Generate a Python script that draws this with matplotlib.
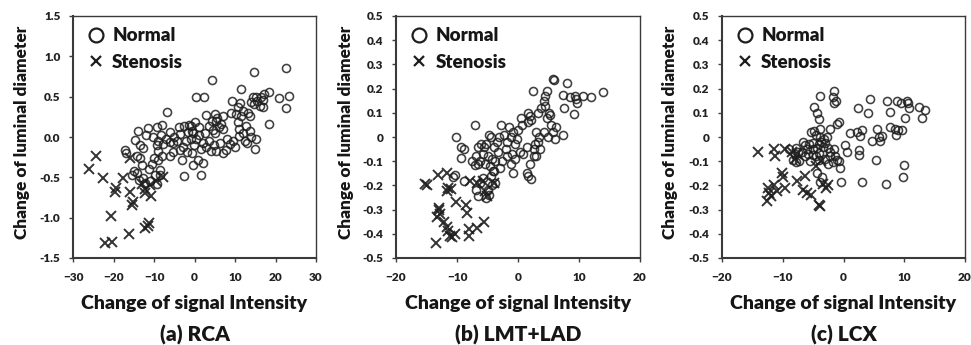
import numpy as np
import matplotlib
matplotlib.use('Agg')
import matplotlib.pyplot as plt
from matplotlib.lines import Line2D

plt.rcParams['font.family'] = ['Lato', 'DejaVu Sans']
plt.rcParams['font.weight'] = 'heavy'

# ---- data ----
# (a) RCA
rca_normal_x = [22.7, 14.7, 4.4, 11.4, 0.3, 2.4, 9.2, 18.3, 20.9, 23.4, 22.7, 18.3, -6.7,
                14.5, 15.3, 16.3, 16.9, 14.0, 14.7, 16.1, 16.8, 15.5, 17.2,
                11.2, 10.8, 10.3, 11.6, 12.0, 9.1, 13.2, 13.6,
                2.9, 5.0, 7.0, 5.4, 6.6, 3.7, 7.0, 5.0, 4.3, 6.0, 5.6, 4.6,
                10.7, 11.1, 12.0, 12.8, 13.6, 11.0, 12.4, 14.0, 15.1, 14.9, 13.0,
                9.5, 8.7, 9.9, 7.0, 7.9, 5.4, 4.1, 2.9, 2.1, 0.4, -0.4, -0.8, 0.0, 1.2, 1.0,
                3.5, 6.2, 8.0, 2.5, -0.2, 1.6, 4.8,
                0.8, 2.0, -0.4, 1.6, -2.7,
                -13.9, -11.4, -9.3, -8.1, -10.2, -8.3, -6.0, -3.8, -2.6, -1.3, -0.7, -1.7,
                -3.5, -5.0, -4.2, -2.0, -7.0, -12.0, -9.0, -6.0, -2.8, -0.9,
                -14.7, -13.5, -12.6, -9.3, -7.7, -5.2, -3.5, -1.8,
                -17.2, -16.8, -13.5, -14.3, -10.0, -8.1, -9.0, -6.0, -5.2, -3.2, -0.7,
                -13.0, -10.6, -9.0, -8.5, -11.3,
                -15.5, -14.3, -12.6, -9.7, -8.5, -10.9, -12.2, -13.6, -9.2, -15.0]
rca_normal_y = [0.85, 0.80, 0.71, 0.60, 0.50, 0.49, 0.45, 0.56, 0.48, 0.51, 0.36, 0.16, 0.31,
                0.50, 0.50, 0.50, 0.46, 0.43, 0.41, 0.39, 0.37, 0.45, 0.53,
                0.42, 0.37, 0.28, 0.26, 0.32, 0.30, 0.30, 0.26,
                0.27, 0.28, 0.26, 0.20, 0.16, 0.14, 0.10, 0.05, 0.20, 0.12, 0.24, 0.09,
                0.18, 0.10, 0.05, 0.14, 0.08, 0.01, -0.05, 0.00, -0.02, -0.15, -0.08,
                -0.05, -0.09, -0.13, -0.20, -0.16, -0.17, -0.17, -0.13, -0.07, -0.03, 0.05, 0.14, 0.18, 0.12, 0.02,
                -0.05, -0.08, -0.02, 0.05, -0.10, -0.15, -0.10,
                -0.28, -0.32, -0.35, -0.47, -0.48,
                0.08, 0.11, 0.13, 0.15, 0.00, 0.02, 0.06, 0.12, 0.14, 0.15, 0.07, 0.06,
                0.04, 0.00, -0.05, -0.05, -0.02, 0.02, -0.05, -0.06, -0.12, -0.03,
                -0.04, -0.10, -0.14, -0.10, -0.09, -0.08, -0.16, -0.18,
                -0.16, -0.20, -0.26, -0.24, -0.26, -0.24, -0.17, -0.24, -0.18, -0.28, -0.20,
                -0.35, -0.33, -0.29, -0.41, -0.40,
                -0.47, -0.45, -0.51, -0.47, -0.47, -0.55, -0.57, -0.53, -0.58, -0.42]
rca_sten_x = [-24.4, -26.0, -22.6, -17.6, -19.4, -19.7, -15.9, -15.3, -15.5, -12.2, -12.2, -10.8,
              -11.0, -7.9, -15.9, -20.5, -22.1, -20.3, -16.2, -12.2, -11.2, -11.6, -9.5, -13.0]
rca_sten_y = [-0.24, -0.40, -0.51, -0.51, -0.63, -0.68, -0.68, -0.80, -0.84, -0.64, -0.70, -0.73,
              -0.60, -0.50, -0.26, -0.98, -1.31, -1.30, -1.20, -1.13, -1.06, -1.10, -0.55, -0.58]

# (b) LMT+LAD
lad_normal_x = [5.8, 5.9, 8.1, 2.5, 4.7, 13.9, 7.3, 10.7, 11.9, 9.4, 9.5, 8.5, 9.7, 7.5, 9.2,
                4.4, 4.2, 3.7, 4.5, 3.3, 1.9, 1.6, 2.2, 5.0, 5.3, 4.8, 5.4, 6.2, 5.7, 7.4, 6.0, 4.9, 4.3,
                3.0, 3.5, 2.8, 3.3, 2.6, 2.6, 1.5, 0.7, 0.5, 1.6, 0.0, -0.2, 0.4, -0.5, -0.8, -1.5,
                -1.2, -1.8, -2.3, -2.8, -3.1, -3.5, -2.0, -1.0, -0.5, -1.8, -2.6, -3.3, -4.0, -4.5,
                -4.8, -5.2, -5.6, -6.0, -6.6, -5.8, -5.0, -4.3, -3.8, -3.0, -1.2, -0.8, 1.4, 1.6, 2.1,
                0.9, 2.0, 3.0, 3.6, -6.9, -6.2, -5.4, -4.6, -4.1, -7.5, -7.0, -6.5, -7.0, -10.1,
                -9.4, -8.9, -9.3, -10.4, -10.6, -8.8, -6.9, -6.5, -4.9, -5.8, -4.5, -4.0, -3.7, -4.2,
                -6.2, -4.8, -5.2]
lad_normal_y = [0.24, 0.235, 0.225, 0.19, 0.19, 0.185, 0.175, 0.17, 0.165, 0.17, 0.155, 0.165, 0.14, 0.12, 0.095,
                0.17, 0.15, 0.12, 0.13, 0.10, 0.085, 0.10, 0.07, 0.10, 0.09, 0.08, 0.05, 0.04, 0.02, 0.01, -0.01, 0.00, 0.02,
                0.02, 0.00, -0.03, -0.02, -0.05, -0.08, -0.04, 0.05, 0.08, 0.06, 0.03, -0.01, -0.06, -0.03, 0.02, 0.04,
                0.00, -0.02, 0.01, 0.05, 0.00, -0.02, -0.05, -0.07, -0.09, -0.08, -0.10, -0.06, -0.04, 0.00,
                0.01, -0.03, -0.04, -0.03, -0.04, -0.07, -0.08, -0.09, -0.10, -0.13, -0.11, -0.15, -0.15, -0.16, -0.175,
                -0.07, -0.11, -0.08, -0.05, -0.08, -0.10, -0.11, -0.12, -0.14, -0.10, -0.115, -0.11, 0.05, 0.00,
                -0.04, -0.05, -0.085, -0.155, -0.165, -0.18, -0.22, -0.245, -0.22, -0.17, -0.16, -0.14, -0.19, -0.20,
                -0.19, -0.24, -0.25]
lad_sten_x = [-15.0, -15.2, -13.1, -11.7, -11.4, -11.6, -10.1, -8.5, -8.4, -13.0, -12.8, -13.3, -12.9,
              -12.2, -11.7, -11.4, -11.1, -10.3, -10.8, -13.5, -8.1, -8.1, -6.8, -5.5, -7.9, -6.8,
              -5.7, -5.4, -5.1, -4.0, -11.0]
lad_sten_y = [-0.20, -0.195, -0.156, -0.15, -0.21, -0.225, -0.27, -0.28, -0.315, -0.30, -0.32, -0.33, -0.295,
              -0.35, -0.37, -0.39, -0.41, -0.40, -0.415, -0.44, -0.38, -0.41, -0.375, -0.35, -0.18, -0.19,
              -0.18, -0.225, -0.245, -0.19, -0.215]

# (c) LCX
lcx_normal_x = [-1.5, -1.7, -1.3, -1.6, -3.9, -4.9, -4.3, -4.1, -3.9, 2.4, 4.1, 4.4, 7.1, 7.6, 8.8, 9.5,
                10.4, 10.6, 10.2, 10.7, 12.5, 13.4, 13.0, 9.0, 8.5, 8.7, 9.6, 7.7, 5.8, 6.3, 6.0, 5.5,
                4.7, 2.2, 2.7, 3.0, 1.1, 0.3, 0.5, -0.8, -1.1, -2.2, 2.5, 2.6, 5.3, 10.0, 9.8, 7.0,
                3.0, -0.4, -0.5, -1.1, -1.4, -2.2, -4.4, -3.6, -3.8, -4.9, -4.6, -3.8, -3.2, -2.7,
                -3.0, -4.0, -5.0, -5.6, -6.4, -6.0, -6.8, -7.5, -8.0, -8.3, -7.9, -7.3, -6.3, -5.8,
                -5.1, -4.6, -4.0, -3.4, -2.6, -2.2, -1.6, -5.0, -4.3, -3.7, -6.6, -5.4, -2.5, -1.8,
                -0.8, -4.0, -3.0, -5.5, -8.9, -7.9]
lcx_normal_y = [0.19, 0.165, 0.15, 0.14, 0.17, 0.125, 0.10, 0.075, 0.035, 0.12, 0.10, 0.155, 0.15, 0.105, 0.15, 0.14,
                0.15, 0.14, 0.08, 0.12, 0.125, 0.11, 0.08, 0.03, 0.035, 0.01, 0.03, 0.04, 0.00, 0.005, -0.015, 0.035,
                -0.015, 0.02, 0.005, 0.03, 0.015, -0.035, -0.06, 0.06, 0.055, 0.035, -0.055, -0.075, -0.095, -0.115, -0.165, -0.193,
                -0.186, -0.186, -0.13, -0.095, -0.08, -0.08, -0.15, -0.166, -0.186, 0.025, 0.01, 0.00, -0.01, 0.00,
                -0.025, -0.03, -0.025, -0.03, -0.035, -0.05, -0.06, -0.06, -0.07, -0.095, -0.105, -0.10, -0.08, -0.07,
                -0.075, -0.08, -0.065, -0.04, -0.045, -0.06, -0.05, -0.05, -0.045, -0.02, -0.02, 0.02, -0.11, -0.105,
                -0.10, -0.095, -0.09, -0.10, -0.05, -0.045]
lcx_sten_x = [-14.0, -11.5, -11.2, -9.6, -8.5, -10.1, -9.9, -7.7, -6.4, -12.5, -11.5, -12.2, -11.9, -12.6,
              -11.0, -9.6, -6.6, -6.0, -5.3, -4.0, -3.8, -3.3, -2.5, -2.8, -4.5, -3.7, -7.6, -8.0]
lcx_sten_y = [-0.062, -0.05, -0.08, -0.05, -0.062, -0.15, -0.166, -0.18, -0.16, -0.21, -0.20, -0.23, -0.245, -0.265,
              -0.225, -0.21, -0.22, -0.23, -0.24, -0.28, -0.285, -0.193, -0.20, -0.21, -0.12, -0.10, -0.07, -0.09]

small_ticks = [-0.5, -0.4, -0.3, -0.2, -0.1, 0, 0.1, 0.2, 0.3, 0.4, 0.5]
small_labels = ['-0.5', '-0.4', '-0.3', '-0.2', '-0.1', '0', '0.1', '0.2', '0.3', '0.4', '0.5']
panels = [
    ('(a) RCA', rca_normal_x, rca_normal_y, rca_sten_x, rca_sten_y,
     [-30, -20, -10, 0, 10, 20, 30], [-1.5, -1.0, -0.5, 0.0, 0.5, 1.0, 1.5],
     ['-1.5', '-1.0', '-0.5', '0.0', '0.5', '1.0', '1.5']),
    ('(b) LMT+LAD', lad_normal_x, lad_normal_y, lad_sten_x, lad_sten_y,
     [-20, -10, 0, 10, 20], small_ticks, small_labels),
    ('(c) LCX', lcx_normal_x, lcx_normal_y, lcx_sten_x, lcx_sten_y,
     [-20, -10, 0, 10, 20], small_ticks, small_labels),
]

W, H = 971, 345
fig = plt.figure(figsize=(W / 100, H / 100), dpi=100)
lefts = [73, 396, 722]
widths = [243, 244, 243]
ylab_x = [-0.21, -0.205, -0.215]
ink = '#1e1e1e'
txt = '#161616'

for i, (title, nx, ny, sx, sy, xt, yt, ytl) in enumerate(panels):
    ax = fig.add_axes([lefts[i] / W, (H - 258) / H, widths[i] / W, 242 / H])
    ax.plot(nx, ny, 'o', ms=5.8, mfc='none', mec=ink, mew=1.15, alpha=0.85)
    ax.plot(sx, sy, 'x', ms=6.8, mec=ink, mew=1.4, alpha=0.9)
    ax.set_xlim(xt[0], xt[-1])
    ax.set_ylim(yt[0], yt[-1])
    ax.set_xticks(xt)
    ax.set_yticks(yt)
    ax.set_yticklabels(ytl)
    ax.tick_params(axis='both', direction='out', length=3, width=1, color='#404040',
                   labelsize=8.5, labelcolor='#222222')
    ax.tick_params(axis='x', pad=7)
    ax.tick_params(axis='y', pad=6)
    for lbl in ax.get_xticklabels() + ax.get_yticklabels():
        lbl.set_fontweight('heavy')
    for side in ['left', 'bottom']:
        ax.spines[side].set_linewidth(1.5)
        ax.spines[side].set_color('#3a3a3a')
    for side in ['top', 'right']:
        ax.spines[side].set_linewidth(1.0)
        ax.spines[side].set_color('#3a3a3a')

    ax.text(ylab_x[i], 0.52, 'Change of luminal diameter', rotation=90, transform=ax.transAxes,
            ha='center', va='center', fontsize=12.4, fontweight='heavy', color=txt)
    ax.text(0.5, -0.19, 'Change of signal Intensity', transform=ax.transAxes,
            ha='center', va='center', fontsize=14, fontweight='heavy', color=txt)
    ax.text(0.5, -0.32, title, transform=ax.transAxes,
            ha='center', va='center', fontsize=15, fontweight='heavy', color=txt)

    handles = [Line2D([], [], ls='none', marker='o', ms=10, mfc='none', mec=ink, mew=1.6, label='Normal'),
               Line2D([], [], ls='none', marker='x', ms=7.5, mec=ink, mew=1.6, label='Stenosis')]
    leg = ax.legend(handles=handles, loc='upper left', bbox_to_anchor=(0.015, 1.0), frameon=False,
                    fontsize=13.5, handlelength=0.9, handletextpad=0.4, labelspacing=0.5,
                    borderaxespad=0.3, borderpad=0.3)
    for t in leg.get_texts():
        t.set_fontweight('heavy')
        t.set_color(txt)

fig.savefig('out.png', dpi=100)
